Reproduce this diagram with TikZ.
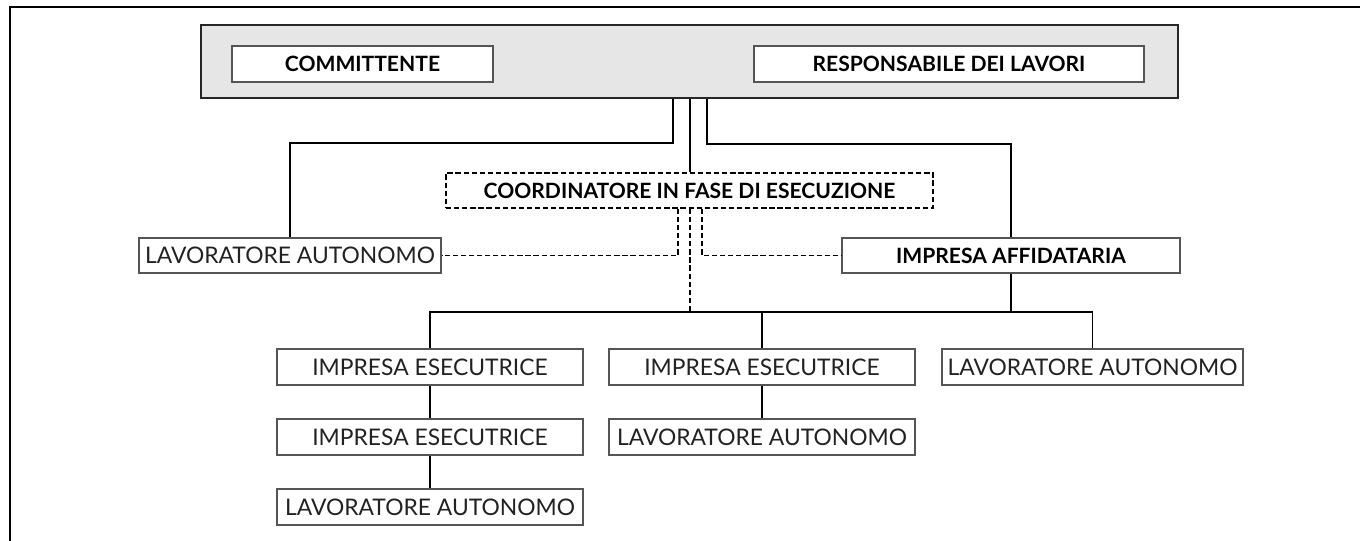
\documentclass[tikz,border=0pt]{standalone}
\usepackage{fontspec}
\setmainfont{Lato}
\usetikzlibrary{positioning}
\definecolor{panel}{HTML}{E6E6E6}
\definecolor{boxline}{HTML}{555555}
\definecolor{ink}{HTML}{222222}
\begin{document}
\begin{tikzpicture}[x=0.02cm, y=-0.02cm,
	link/.style={line width=1.1pt, black},
	dlink/.style={line width=1pt, black, dash pattern=on 3pt off 1.6pt},
	unit/.style={draw=boxline, line width=0.7pt, fill=white, inner sep=0pt, minimum height=0.7cm, text=ink, font=\fontsize{13}{15}\selectfont},
	head/.style={unit, text=black, font=\fontsize{12}{14}\selectfont\bfseries},
	]
	\useasboundingbox (0,0) rectangle (1360,541);
	\draw[line width=0.6pt]	(9,7) -- (1360,7);
	\draw[line width=1.6pt]	(9,7) -- (106,7);
	\draw[line width=1.6pt]	(1273,7) -- (1360,7);
	\draw[line width=1.6pt]	(10,6) -- (10,541);
	\node[draw=black!85, line width=1.1pt, fill=panel, minimum width=19.54cm, minimum height=1.46cm] (top) at (689.5,61.5) {};
	\node[head, minimum width=5.22cm, minimum height=0.72cm] (committente) at (362.5,64) {COMMITTENTE};
	\node[head, minimum width=7.8cm, minimum height=0.72cm] (responsabile) at (949,64) {RESPONSABILE DEI LAVORI};
	\node[head, draw=black, dash pattern=on 3pt off 1.6pt, line width=1pt, minimum width=9.74cm] (cse) at (689.5,190.5) {COORDINATORE IN FASE DI ESECUZIONE};
	\node[unit, minimum width=6.04cm] (autonomoA) at (290,255.5) {LAVORATORE AUTONOMO};
	\node[head, minimum width=6.76cm] (affidataria) at (1011,255.5) {IMPRESA AFFIDATARIA};
	\node[unit, minimum width=6.12cm, minimum height=0.72cm] (esecutriceA) at (430,367) {IMPRESA ESECUTRICE};
	\node[unit, minimum width=6.12cm, minimum height=0.72cm] (esecutriceB) at (430,437) {IMPRESA ESECUTRICE};
	\node[unit, minimum width=6.12cm, minimum height=0.72cm] (autonomoB) at (430,507) {LAVORATORE AUTONOMO};
	\node[unit, minimum width=6.12cm, minimum height=0.72cm] (esecutriceC) at (762,367) {IMPRESA ESECUTRICE};
	\node[unit, minimum width=6.12cm, minimum height=0.72cm] (autonomoC) at (762,437) {LAVORATORE AUTONOMO};
	\node[unit, minimum width=6.02cm, minimum height=0.72cm] (autonomoD) at (1092.5,367) {LAVORATORE AUTONOMO};
	\coordinate (kneeL) at (673,143);
	\coordinate (kneeR) at (707,144);
	\coordinate (dashL) at (678,255.5);
	\coordinate (dashR) at (702,255.5);
	\coordinate (bus) at (690,312);
	\draw[link]	(top.south -| kneeL) -- (kneeL) -| (autonomoA);
	\draw[link]	(top.south -| kneeR) -- (kneeR) -| (affidataria);
	\draw[link]	(top.south -| bus) -- (cse.north -| bus);
	\draw[dlink]	(cse.south -| dashL) -- (dashL) -- (autonomoA);
	\draw[dlink]	(cse.south -| dashR) -- (dashR) -- (affidataria);
	\draw[dlink]	(cse.south -| bus) -- (bus);
	\draw[link]	(affidataria) -- (affidataria |- bus);
	\draw[link]	(esecutriceA) -- (esecutriceA |- bus) -- (autonomoD |- bus) -- (autonomoD);
	\draw[link]	(esecutriceC) -- (esecutriceC |- bus);
	\draw[link]	(esecutriceA) -- (esecutriceB) -- (autonomoB);
	\draw[link]	(esecutriceC) -- (autonomoC);
\end{tikzpicture}
\end{document}
